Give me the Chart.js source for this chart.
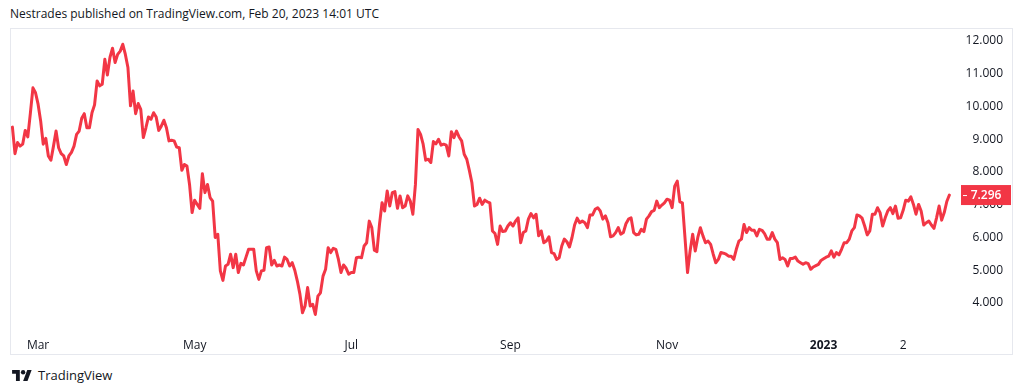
<!DOCTYPE html>
<html>
<head>
<meta charset="utf-8">
<script src="https://cdn.jsdelivr.net/npm/chart.js@4/dist/chart.umd.min.js"></script>
<style>
  body { margin: 0; background: #fff; width: 1024px; height: 392px; overflow: hidden; font-family: "Open Sans", sans-serif; }
  #title { position: absolute; left: 10px; top: 5px; font-size: 12px; color: #131722; white-space: nowrap; }
  .chart-container { position: absolute; left: 10px; top: 28px; width: 1003px; height: 327px; border: 1px solid #e6e8ee; box-sizing: border-box; }
  #footer { position: absolute; left: 12px; top: 366px; font-size: 13px; color: #131722; display: flex; align-items: center; }
  #footer svg { margin-right: 6px; }
</style>
</head>
<body>
<div id="title">Nestrades published on TradingView.com, Feb 20, 2023 14:01 UTC</div>
<div class="chart-container"><canvas id="priceChart" width="1001" height="325"></canvas></div>
<div id="footer">
  <svg width="20" height="11" viewBox="0 0 36 20"><path d="M14 20H7V7H0V0h14z" fill="#131722"/><circle cx="20" cy="4" r="4" fill="#131722"/><path d="M28 20h-8L27.5 0h8z" fill="#131722"/></svg>
  <span>TradingView</span>
</div>
<script>
// daily closes, Feb 19 2022 .. Feb 20 2023 (day 0 = Feb 19 2022)
const closes = [
  9.37, 8.56, 8.90, 8.79, 8.85, 9.27, 9.07, 9.80, 10.57, 10.42,
  10.07, 9.56, 8.85, 9.03, 8.49, 8.36, 8.79, 9.25, 8.74, 8.56,
  8.49, 8.23, 8.49, 8.60, 8.79, 9.15, 9.25, 9.64, 9.78, 9.35,
  9.35, 9.81, 10.05, 10.78, 10.63, 10.68, 11.44, 10.96, 11.50, 11.78,
  11.34, 11.59, 11.69, 11.90, 11.59, 11.19, 10.02, 10.47, 9.78, 10.09,
  9.91, 9.05, 9.35, 9.68, 9.61, 9.81, 9.68, 9.27, 9.40, 9.58,
  9.35, 8.95, 8.97, 8.95, 8.76, 8.74, 8.05, 8.23, 8.18, 7.62,
  6.76, 7.14, 7.01, 6.89, 7.95, 7.37, 7.62, 7.22, 7.11, 6.00,
  6.10, 4.98, 4.69, 5.13, 5.18, 5.49, 5.08, 5.49, 4.93, 5.21,
  5.16, 5.40, 5.64, 5.64, 5.64, 4.98, 4.72, 4.98, 5.00, 5.69,
  5.71, 5.16, 5.30, 5.13, 5.16, 5.13, 5.40, 5.33, 5.13, 5.23,
  5.00, 4.67, 4.27, 3.70, 3.91, 4.47, 3.91, 3.96, 3.65, 4.21,
  4.31, 4.82, 5.03, 5.69, 5.54, 5.67, 5.64, 5.33, 4.93, 5.16,
  5.06, 4.88, 4.93, 4.93, 5.38, 5.40, 5.38, 5.74, 5.84, 6.50,
  6.30, 5.61, 5.57, 6.40, 7.06, 6.81, 7.42, 6.96, 7.37, 7.40,
  6.89, 7.27, 6.91, 6.96, 7.27, 7.11, 6.71, 7.62, 9.30, 9.15,
  8.85, 8.36, 8.39, 8.29, 8.93, 8.86, 9.00, 8.82, 8.85, 8.82,
  8.49, 9.23, 9.05, 9.25, 9.07, 8.95, 8.54, 8.39, 8.05, 7.67,
  6.96, 7.01, 7.20, 7.01, 7.14, 7.09, 7.06, 6.20, 6.12, 5.79,
  6.35, 6.18, 6.20, 6.35, 6.45, 6.35, 6.50, 6.60, 5.84, 6.15,
  6.20, 6.56, 6.73, 6.60, 6.71, 6.05, 6.20, 5.84, 5.89, 6.02,
  5.54, 5.51, 5.33, 5.38, 5.74, 5.95, 5.87, 5.71, 6.00, 6.38,
  6.59, 6.45, 6.50, 6.45, 6.30, 6.69, 6.69, 6.86, 6.91, 6.81,
  6.56, 6.66, 6.45, 6.02, 6.05, 6.15, 6.30, 6.10, 6.15, 6.42,
  6.56, 6.60, 6.15, 6.08, 6.10, 6.25, 6.18, 6.56, 6.66, 6.79,
  6.83, 7.11, 6.91, 6.99, 7.06, 7.17, 7.14, 6.91, 7.57, 7.72,
  7.09, 7.06, 6.00, 4.93, 5.59, 6.10, 5.59, 6.00, 6.30, 6.05,
  5.84, 5.89, 5.79, 5.49, 5.23, 5.33, 5.54, 5.52, 5.49, 5.43,
  5.43, 5.33, 5.64, 5.89, 5.95, 6.40, 6.15, 6.30, 6.22, 6.22,
  6.05, 6.25, 6.22, 6.12, 5.95, 5.95, 6.15, 5.95, 5.84, 5.33,
  5.38, 5.33, 5.13, 5.36, 5.36, 5.40, 5.28, 5.23, 5.18, 5.23,
  5.20, 5.03, 5.10, 5.14, 5.18, 5.30, 5.35, 5.40, 5.43, 5.59,
  5.40, 5.54, 5.47, 5.64, 5.84, 5.84, 5.95, 6.20, 6.30, 6.69,
  6.66, 6.59, 6.35, 6.08, 6.20, 6.71, 6.71, 6.91, 6.76, 6.35,
  6.60, 6.81, 6.91, 6.73, 6.96, 6.59, 6.60, 6.83, 7.14, 7.11,
  7.24, 7.01, 6.71, 7.01, 6.81, 6.38, 6.45, 6.50, 6.38, 6.28,
  6.60, 6.96, 6.53, 6.76, 7.10, 7.296
];

// month starts as day offsets, and their labels
const monthDays = [10, 71, 132, 194, 255, 316, 347];
const monthLabels = ['Mar', 'May', 'Jul', 'Sep', 'Nov', '2023', '2'];
const priceTicks = [4, 5, 6, 7, 8, 9, 10, 11, 12];

const lineColor = '#f23645';
const textColor = '#131722';
const fontFamily = '"Open Sans", sans-serif';

// last price badge on the price scale
const lastPriceLabel = {
    id: 'lastPriceLabel',
    afterDraw(chart) {
        const ctx = chart.ctx;
        const y = chart.scales.y.getPixelForValue(closes[closes.length - 1]);
        const x0 = chart.chartArea.right + 7;
        ctx.save();
        ctx.fillStyle = lineColor;
        ctx.fillRect(x0, y - 10, 50, 20);
        ctx.strokeStyle = '#fff';
        ctx.lineWidth = 1;
        ctx.beginPath();
        ctx.moveTo(x0 + 2, y + 0.5);
        ctx.lineTo(x0 + 6, y + 0.5);
        ctx.stroke();
        ctx.fillStyle = '#fff';
        ctx.font = '600 12px ' + fontFamily;
        ctx.textAlign = 'center';
        ctx.textBaseline = 'middle';
        ctx.fillText(closes[closes.length - 1].toFixed(3), x0 + 25, y + 1);
        ctx.restore();
    }
};

// no extra room for the outer tick labels
function noEdgePadding(s) {
    s.paddingTop = 0;
    s.paddingBottom = 0;
    s.paddingLeft = 0;
    s.paddingRight = 0;
}

document.addEventListener('DOMContentLoaded', function() {
    const ctx = document.getElementById('priceChart').getContext('2d');
    new Chart(ctx, {
        type: 'line',
        data: {
            datasets: [{
                data: closes.map((v, i) => ({ x: i, y: v })),
                borderColor: lineColor,
                borderWidth: 3,
                pointRadius: 0,
                tension: 0,
                borderJoinStyle: 'round',
                borderCapStyle: 'round'
            }]
        },
        options: {
            responsive: false,
            animation: false,
            layout: { padding: { right: 9 } },
            plugins: { legend: { display: false }, tooltip: { enabled: false } },
            scales: {
                x: {
                    type: 'linear',
                    min: -0.55,
                    max: 366.8,
                    grid: { display: false, drawTicks: false },
                    border: { display: false },
                    afterBuildTicks: s => { s.ticks = monthDays.map(v => ({ value: v })); },
                    afterFit: s => { s.height = 25; noEdgePadding(s); },
                    ticks: {
                        autoSkip: false,
                        maxRotation: 0,
                        padding: 9,
                        color: textColor,
                        font: c => ({ family: fontFamily, size: 12, weight: monthLabels[c.index] === '2023' ? 'bold' : 'normal' }),
                        callback: (v, i) => monthLabels[i]
                    }
                },
                y: {
                    position: 'right',
                    min: 3.206,
                    max: 12.366,
                    grid: { display: false, drawTicks: false },
                    border: { display: false },
                    afterBuildTicks: s => { s.ticks = priceTicks.map(v => ({ value: v })); },
                    afterFit: s => { s.width = 49; noEdgePadding(s); },
                    ticks: {
                        crossAlign: 'far',
                        color: textColor,
                        font: { family: fontFamily, size: 12 },
                        callback: v => v.toFixed(3)
                    }
                }
            }
        },
        plugins: [lastPriceLabel]
    });
});
</script>
</body>
</html>
